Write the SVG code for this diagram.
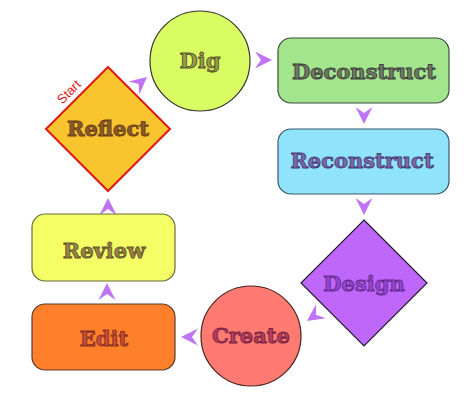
<svg xmlns="http://www.w3.org/2000/svg" width="476" height="404" viewBox="0 0 476 404">
<defs>
<style>
.lbl{font-family:"DejaVu Serif","Liberation Serif",serif;font-weight:bold;font-size:21px;text-anchor:middle;stroke-width:0.9px}
.ah{fill:#bf73f5}
</style>
<path id="ah" d="M0,0 L-17,-8.5 L-11,0 L-17,8.5 Z"/>
</defs>
<rect width="476" height="404" fill="#ffffff"/>
<g id="connectors" class="ah">
<use href="#ah" transform="translate(147,77) rotate(-40)"/>
<use href="#ah" transform="translate(272,60)"/>
<use href="#ah" transform="translate(364,124) rotate(90)"/>
<use href="#ah" transform="translate(364,215) rotate(90)"/>
<use href="#ah" transform="translate(307,321) rotate(145)"/>
<use href="#ah" transform="translate(181,337) rotate(180)"/>
<use href="#ah" transform="translate(107,283) rotate(-90)"/>
<use href="#ah" transform="translate(108,198) rotate(-90)"/>
</g>
<g id="reflect">
<polygon points="108,67 170,129 108,191 46,129" fill="#f9c52e" stroke="#dd1a14" stroke-width="2"/>
<text class="lbl" x="108" y="136" fill="#8a5a2a" stroke="#6a4018">Reflect</text>
<text x="72" y="95" transform="rotate(-45 72 95)" font-family="Liberation Sans, Arial, sans-serif" font-size="13" fill="#e0141a" text-anchor="middle">Start</text>
</g>
<g id="dig">
<circle cx="200" cy="61" r="50" fill="#d9fc63" stroke="#333" stroke-width="1.2"/>
<text class="lbl" x="200" y="68" fill="#9a9a48" stroke="#55552a">Dig</text>
</g>
<g id="deconstruct">
<rect x="278" y="38" width="171" height="65" rx="13" fill="#a2e58c" stroke="#3c4e3c" stroke-width="1.2"/>
<text class="lbl" x="364" y="79" fill="#6e7a62" stroke="#3e3e3e">Deconstruct</text>
</g>
<g id="reconstruct">
<rect x="278" y="129" width="171" height="65" rx="13" fill="#8fe4fc" stroke="#3a5664" stroke-width="1.2"/>
<text class="lbl" x="362" y="168" fill="#7a6aa8" stroke="#4a3a78">Reconstruct</text>
</g>
<g id="design">
<polygon points="364,220 427,283 364,346 301,283" fill="#bf66fb" stroke="#221a30" stroke-width="1.2"/>
<text class="lbl" x="364" y="291" fill="#9448cc" stroke="#66288e">Design</text>
</g>
<g id="create">
<circle cx="251" cy="336" r="50" fill="#ff7a70" stroke="#4a2222" stroke-width="1.2"/>
<text class="lbl" x="251" y="343" fill="#b04060" stroke="#7a2040">Create</text>
</g>
<g id="edit">
<rect x="32" y="304" width="143" height="66" rx="13" fill="#ff7f2a" stroke="#5a3a2a" stroke-width="1.2"/>
<text class="lbl" x="104" y="346" fill="#c0503a" stroke="#8a2e22">Edit</text>
</g>
<g id="review">
<rect x="32" y="214" width="143" height="67" rx="13" fill="#f4ff66" stroke="#6a6a40" stroke-width="1.2"/>
<text class="lbl" x="104" y="258" fill="#9a8444" stroke="#66562e">Review</text>
</g>
</svg>
